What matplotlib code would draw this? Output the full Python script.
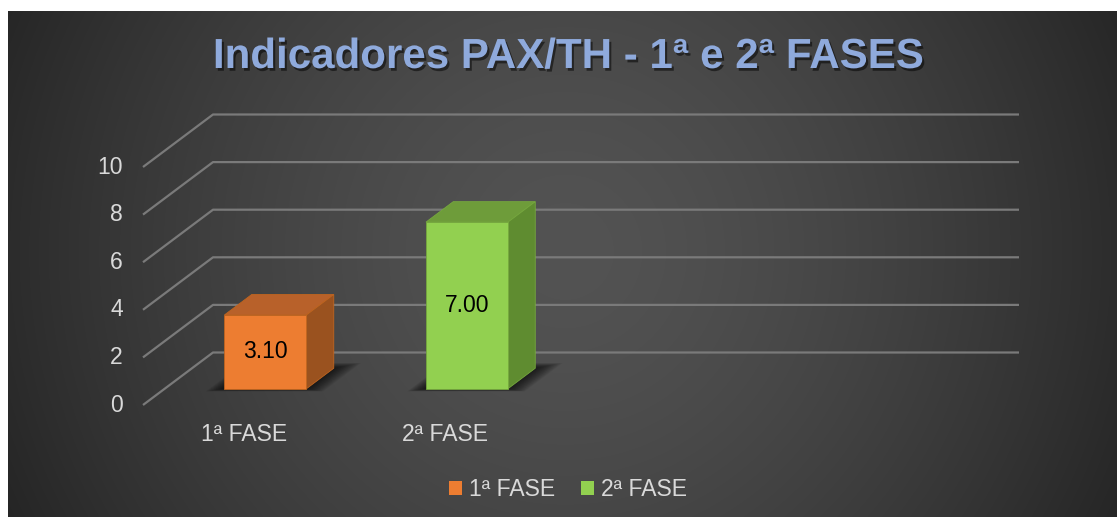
import numpy as np
import matplotlib
matplotlib.use("Agg")
import matplotlib.pyplot as plt
from matplotlib.patches import Polygon, Patch
import matplotlib.patheffects as pe

# ---------------- data ----------------
categories = ["1ª FASE", "2ª FASE"]
values = [3.10, 7.00]
value_labels = ["3.10", "7.00"]
series_names = ["1ª FASE", "2ª FASE"]
y_ticks = [0, 2, 4, 6, 8, 10]
title = "Indicadores PAX/TH - 1ª e 2ª FASES"

# ---------------- style / layout ----------------
W, H = 1117, 517
FRONT_X0 = 143.0      # px of front-left floor corner
FRONT_Y0 = 405.0      # px (from top) of value 0 at the front
SLOT_PX = 201.5       # px per category slot
UNIT_PX = 23.8        # px per value unit
N_SLOTS = 4
DX = 70.0 / SLOT_PX   # depth vector in data units
DV = 52.5 / UNIT_PX
BAR_W = 0.407
F0, F1 = 0.31, 0.70   # bar depth range (fraction of depth)

front_cols = ["#ED7D31", "#92D050"]
top_cols = ["#B8612A", "#6E9C3A"]
side_cols = ["#9A521F", "#5F8C30"]
edge_cols = ["#C0651F", "#76A83E"]
txt_col = "#D9D9D9"
FONT = "Liberation Sans"

fig = plt.figure(figsize=(W / 100, H / 100), dpi=100, facecolor="white")

# background radial gradient
bg = fig.add_axes([8 / W, 0, 1 - 8 / W, 1 - 11 / H])
bw, bh = W - 8, H - 11
yy, xx = np.mgrid[0:bh, 0:bw]
cx, cy = 557.0, 240.0
r = np.sqrt((xx - cx) ** 2 + (yy - cy) ** 2) / 620.0
r = np.clip(r, 0, 1) ** 1.5
c_in, c_out = 0x53 / 255, 0x25 / 255
g = c_in + (c_out - c_in) * r
img = np.dstack([g, g, g])
bg.imshow(img, aspect="auto", extent=(0, 1, 0, 1), origin="upper")
bg.set_axis_off()

# main axes in data coordinates (categories / values)
ax = fig.add_axes([0, 0, 1, 1])
ax.patch.set_alpha(0)
ax.set_xlim(-FRONT_X0 / SLOT_PX, (W - FRONT_X0) / SLOT_PX)
ax.set_ylim((FRONT_Y0 - H) / UNIT_PX, FRONT_Y0 / UNIT_PX)
ax.set_axis_off()


def P(x, v, f):
    return (x + f * DX, v + f * DV)


# gridlines (left wall diagonal + back wall)
for v in y_ticks:
    ax.plot([0, DX, N_SLOTS + DX], [v, v + DV, v + DV],
            color="#7A7A7A", lw=1.6, solid_capstyle="butt", zorder=1)
    ax.text(-0.10, v, str(v), ha="right", va="center", fontsize=16.5,
            color=txt_col, family=FONT, zorder=5)

# bars
NL = 12
for i, val in enumerate(values):
    xc = i + 0.5
    x0, x1 = xc - BAR_W / 2, xc + BAR_W / 2
    # soft shadow on floor
    for k in range(NL):
        t = 1 - k / NL
        exl = 0.075 * t
        exr = 0.10 * t
        efb = 0.10 * t
        eff = 0.05 * t
        shadow = [P(x0 - exl, 0, F0 - eff),
                  P(x1 + exr, 0, F0 - eff),
                  P(x1 + exr, 0, F1 + efb),
                  P(x0 - exl, 0, F1 + efb)]
        ax.add_patch(Polygon(shadow, closed=True, facecolor="black",
                             edgecolor="none", alpha=0.07, zorder=2))
    top = [P(x0, val, F0), P(x1, val, F0), P(x1, val, F1), P(x0, val, F1)]
    side = [P(x1, 0, F0), P(x1, 0, F1), P(x1, val, F1), P(x1, val, F0)]
    front = [P(x0, 0, F0), P(x1, 0, F0), P(x1, val, F0), P(x0, val, F0)]
    ax.add_patch(Polygon(top, closed=True, facecolor=top_cols[i],
                         edgecolor=edge_cols[i], lw=0.6, zorder=3))
    ax.add_patch(Polygon(side, closed=True, facecolor=side_cols[i],
                         edgecolor=edge_cols[i], lw=0.6, zorder=3))
    ax.add_patch(Polygon(front, closed=True, facecolor=front_cols[i],
                         edgecolor=edge_cols[i], lw=0.6, zorder=4))
    fx, fy = P(xc, val / 2, F0)
    ax.text(fx, fy, value_labels[i], ha="center", va="center",
            fontsize=16.5, color="black", family=FONT, zorder=6)
    ax.text(xc, -1.22, categories[i], ha="center", va="center",
            fontsize=16.5, color=txt_col, family=FONT, zorder=5)

# title
fig.text(569 / W, 1 - 68 / H, title, ha="center", va="baseline",
         fontsize=30.3, fontweight="bold", color="#8FAADC", family=FONT,
         path_effects=[pe.withSimplePatchShadow(offset=(1.5, -2),
                                                shadow_rgbFace="black",
                                                alpha=0.5)])

# legend
handles = [Patch(facecolor=front_cols[i], edgecolor="none")
           for i in range(len(series_names))]
leg = fig.legend(handles, series_names, loc="center",
                 bbox_to_anchor=(568 / W, 27 / H), ncol=2, frameon=False,
                 handlelength=0.55, handleheight=0.55, handletextpad=0.3,
                 columnspacing=1.15,
                 prop={"family": FONT, "size": 16.5})
for t in leg.get_texts():
    t.set_color(txt_col)

fig.savefig("out.png", dpi=100, facecolor="white")
